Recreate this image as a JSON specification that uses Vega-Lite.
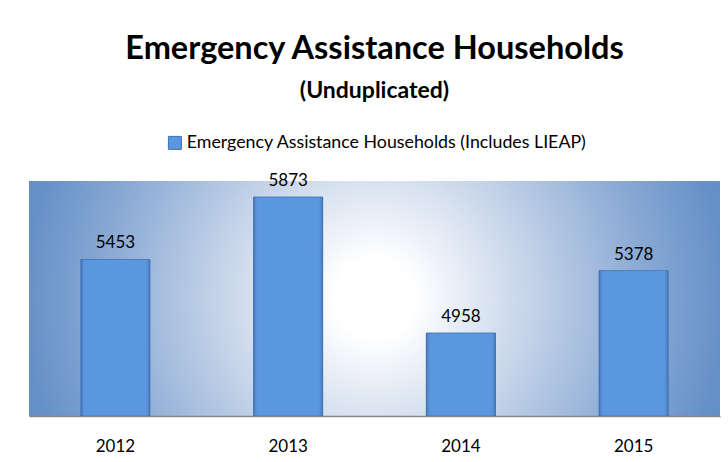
{
  "$schema": "https://vega.github.io/schema/vega-lite/v6.json",
  "autosize": "none",
  "width": 691,
  "height": 235,
  "padding": {"left": 29, "top": 181, "right": 8, "bottom": 46},
  "background": "white",
  "title": {
    "text": "Emergency Assistance Households",
    "subtitle": "(Unduplicated)",
    "anchor": "middle",
    "frame": "group",
    "font": "Lato",
    "fontSize": 32.5,
    "fontWeight": "bold",
    "color": "black",
    "subtitleFont": "Lato",
    "subtitleFontSize": 23,
    "subtitleFontWeight": "bold",
    "subtitleColor": "black",
    "subtitlePadding": 15,
    "offset": 31
  },
  "data": {
    "values": [
      {"year": "2012", "households": 5453, "series": "Emergency Assistance Households (Includes LIEAP)"},
      {"year": "2013", "households": 5873, "series": "Emergency Assistance Households (Includes LIEAP)"},
      {"year": "2014", "households": 4958, "series": "Emergency Assistance Households (Includes LIEAP)"},
      {"year": "2015", "households": 5378, "series": "Emergency Assistance Households (Includes LIEAP)"}
    ]
  },
  "encoding": {
    "x": {
      "field": "year",
      "type": "ordinal",
      "scale": {"paddingInner": 0.6, "paddingOuter": 0.3},
      "axis": {
        "title": null,
        "labelAngle": 0,
        "ticks": false,
        "labelFont": "Lato",
        "labelFontSize": 17,
        "labelColor": "black",
        "labelPadding": 22,
        "domainColor": "#868686",
        "domainWidth": 1.5
      }
    },
    "y": {
      "field": "households",
      "type": "quantitative",
      "scale": {"domain": [4400, 5981], "zero": false, "nice": false},
      "axis": null
    }
  },
  "layer": [
    {
      "mark": {"type": "bar", "clip": true, "stroke": "#4a7dbd", "strokeWidth": 1},
      "encoding": {
        "y2": {"datum": 4400},
        "color": {
          "field": "series",
          "type": "nominal",
          "scale": {"range": ["#5b97de"]},
          "legend": {
            "title": null,
            "orient": "none",
            "legendX": 137,
            "legendY": -47,
            "symbolType": "square",
            "symbolSize": 169,
            "symbolStrokeColor": "#3f6fae",
            "symbolStrokeWidth": 1,
            "labelFont": "Lato",
            "labelFontSize": 17.8,
            "labelLimit": 600,
            "labelColor": "black",
            "labelOffset": 3
          }
        }
      }
    },
    {
      "mark": {
        "type": "bar",
        "clip": true,
        "color": {
          "gradient": "linear",
          "x1": 0, "y1": 0, "x2": 1, "y2": 0,
          "stops": [
            {"offset": 0, "color": "rgba(40,75,130,0.45)"},
            {"offset": 0.07, "color": "rgba(91,151,222,0)"},
            {"offset": 0.93, "color": "rgba(91,151,222,0)"},
            {"offset": 1, "color": "rgba(40,75,130,0.45)"}
          ]
        }
      },
      "encoding": {"y2": {"datum": 4400}}
    },
    {
      "mark": {"type": "text", "baseline": "alphabetic", "dy": -11, "font": "Lato", "fontSize": 17, "color": "black"},
      "encoding": {"text": {"field": "households", "type": "quantitative", "format": "d"}}
    }
  ],
  "config": {
    "view": {
      "stroke": null,
      "fill": {
        "gradient": "radial",
        "x1": 0.5, "y1": 0.5, "r1": 0,
        "x2": 0.5, "y2": 0.5, "r2": 0.72,
        "stops": [
          {"offset": 0, "color": "#ffffff"},
          {"offset": 0.08, "color": "#ffffff"},
          {"offset": 0.3, "color": "#c8d6ea"},
          {"offset": 0.52, "color": "#8fadd6"},
          {"offset": 0.7, "color": "#6691c8"},
          {"offset": 1, "color": "#4a7ebb"}
        ]
      }
    }
  }
}
